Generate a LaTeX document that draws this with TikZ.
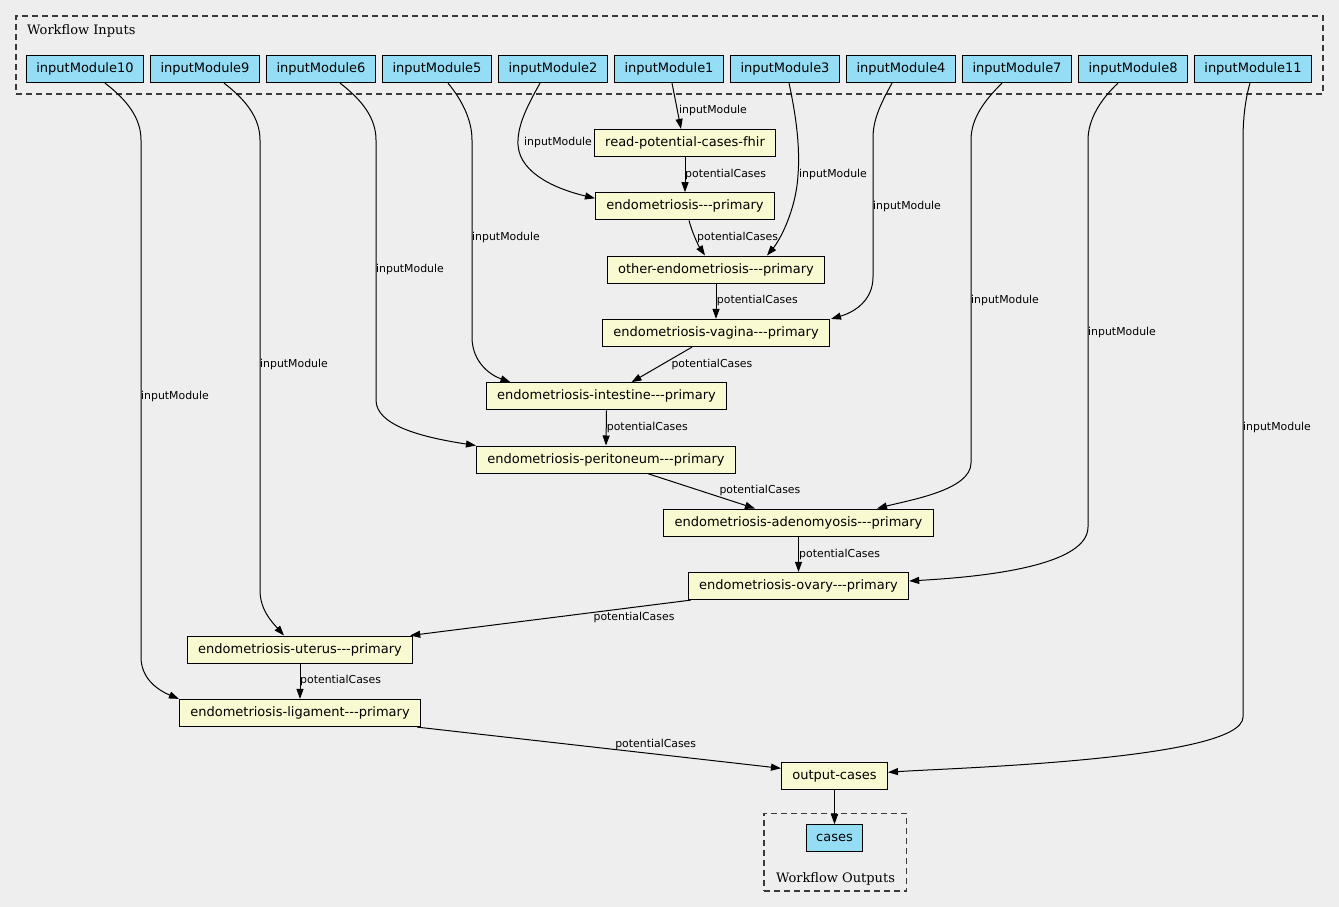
\documentclass[tikz,border=0pt]{standalone}
\usepackage{fontspec}
\newfontfamily\nodefont{DejaVu Sans}
\newfontfamily\clusterfont{DejaVu Serif}
\usetikzlibrary{arrows.meta}
\definecolor{bg}{HTML}{EEEEEE}
\definecolor{infill}{HTML}{94DDF4}
\definecolor{stepfill}{HTML}{FAFAD2}
\definecolor{clusterline}{HTML}{3A3A3A}
\begin{document}
\begin{tikzpicture}[x=1pt,y=-1pt,
 box/.style={draw=black, line width=1.2pt, rectangle, inner ysep=0pt, minimum height=27pt, font=\nodefont\fontsize{13}{15}\selectfont},
 inbox/.style={box, inner xsep=10pt, fill=infill},
 stepbox/.style={box, inner xsep=10.8pt, fill=stepfill},
 lbl/.style={inner sep=0pt, anchor=west, font=\nodefont\fontsize{10.9}{12}\selectfont},
 edge/.style={draw=black, line width=1pt, -{Triangle[length=10pt,width=7pt]}},
 cluster/.style={draw=clusterline, dash pattern=on 6pt off 4pt, line width=1.2pt, rectangle, inner sep=0pt},
 clbl/.style={inner sep=0pt, font=\clusterfont\fontsize{13}{15}\selectfont},
]
\useasboundingbox (0,0) rectangle (1339,907);
\fill[bg] (0,0) rectangle (1339,907);

% clusters
\node[cluster, minimum width=1307pt, minimum height=78pt] (cin) at (669.5,55) {};
\node[clbl, anchor=base west] (cinl) at (27,34.5) {Workflow Inputs};
\node[cluster, minimum width=142.7pt, minimum height=77.7pt] (cout) at (835.3,852.2) {};
\node[clbl, anchor=base] (coutl) at (835.5,882) {Workflow Outputs};

% inputs
\node[inbox] (in10) at (85,69) {inputModule10};
\node[inbox] (in9) at (205,69) {inputModule9};
\node[inbox] (in6) at (321,69) {inputModule6};
\node[inbox] (in5) at (437,69) {inputModule5};
\node[inbox] (in2) at (553,69) {inputModule2};
\node[inbox] (in1) at (669,69) {inputModule1};
\node[inbox] (in3) at (785,69) {inputModule3};
\node[inbox] (in4) at (901,69) {inputModule4};
\node[inbox] (in7) at (1017,69) {inputModule7};
\node[inbox] (in8) at (1133,69) {inputModule8};
\node[inbox] (in11) at (1253,69) {inputModule11};

% steps
\node[stepbox] (read) at (685,143) {read-potential-cases-fhir};
\node[stepbox] (ep) at (685,206.3) {endometriosis---primary};
\node[stepbox] (oth) at (716,269.6) {other-endometriosis---primary};
\node[stepbox] (vag) at (716,333) {endometriosis-vagina---primary};
\node[stepbox] (int) at (606.5,396.3) {endometriosis-intestine---primary};
\node[stepbox] (per) at (606,459.6) {endometriosis-peritoneum---primary};
\node[stepbox] (ade) at (798.5,522.6) {endometriosis-adenomyosis---primary};
\node[stepbox] (ova) at (798.5,586) {endometriosis-ovary---primary};
\node[stepbox] (ute) at (300,649.6) {endometriosis-uterus---primary};
\node[stepbox] (lig) at (300,713) {endometriosis-ligament---primary};
\node[stepbox] (out) at (834.5,776.3) {output-cases};
\node[inbox] (cases) at (834.5,838.3) {cases};

% edges
\draw[edge] ([xshift=3pt]in1.south) -- ([xshift=-4pt]read.north);
\draw[edge] ([xshift=-13pt]in2.south) .. controls (528,105) and (517,125) .. (518,145) .. controls (520,175) and (560,190) .. ([yshift=8pt]ep.west);
\draw[edge] (read.south) -- (ep.north);
\draw[edge] ([xshift=4pt]ep.south) .. controls (692,232) and (698,245) .. ([xshift=-11pt]oth.north);
\draw[edge] ([xshift=4pt]in3.south) .. controls (797,120) and (800,150) .. (798,175) .. controls (796,210) and (780,240) .. ([xshift=51pt]oth.north);
\draw[edge] (oth.south) -- (vag.north);
\draw[edge] ([xshift=-9pt]in4.south) .. controls (880,105) and (873,120) .. (873,138) -- (873,277) .. controls (873,300) and (855,312) .. ([xshift=1pt]vag.north east);
\draw[edge] ([xshift=-24pt]vag.south) -- ([xshift=25pt]int.north);
\draw[edge] ([xshift=11pt]in5.south) .. controls (462,100) and (472,120) .. (472,140) -- (472,337) .. controls (472,362) and (490,375) .. ([xshift=-96pt]int.north);
\draw[edge] (int.south) -- (per.north);
\draw[edge] ([xshift=19pt]in6.south) .. controls (362,100) and (376,118) .. (376,140) -- (376,400) .. controls (376,425) and (420,437) .. (per.north west);
\draw[edge] ([xshift=42pt]per.south) -- ([xshift=-43.5pt]ade.north);
\draw[edge] ([xshift=-15pt]in7.south) .. controls (985,100) and (971,118) .. (971,140) -- (971,463) .. controls (971,490) and (910,500) .. ([xshift=78.5pt]ade.north);
\draw[edge] (ade.south) -- (ova.north);
\draw[edge] ([xshift=-15pt]in8.south) .. controls (1100,100) and (1088,120) .. (1088,140) -- (1088,527) .. controls (1088,570) and (960,578) .. ([yshift=5pt]ova.east);
\draw[edge] ([xshift=3pt]ova.south west) -- ([xshift=-3pt]ute.north east);
\draw[edge] ([xshift=19pt]in9.south) .. controls (246,100) and (260,118) .. (260,140) -- (260,590) .. controls (260,610) and (272,622) .. ([xshift=-16pt]ute.north);
\draw[edge] (ute.south) -- (lig.north);
\draw[edge] ([xshift=20pt]in10.south) .. controls (127,100) and (141,118) .. (141,140) -- (141,657) .. controls (141,680) and (160,691) .. (lig.north west);
\draw[edge] ([xshift=-4pt]lig.south east) -- ([yshift=8pt]out.west);
\draw[edge] ([xshift=-3pt]in11.south) .. controls (1245,100) and (1243,120) .. (1243,140) -- (1243,717) .. controls (1243,760) and (950,768) .. ([yshift=4pt]out.east);
\draw[edge] (out.south) -- (cases.north);

% edge labels
\node[lbl] (l1) at (679,110.7) {inputModule};
\node[lbl] (l2) at (524,142.3) {inputModule};
\node[lbl] (l3) at (685,174.3) {potentialCases};
\node[lbl] (l4) at (697,237.3) {potentialCases};
\node[lbl] (l5) at (799,174) {inputModule};
\node[lbl] (l6) at (716.7,300.7) {potentialCases};
\node[lbl] (l7) at (873,206) {inputModule};
\node[lbl] (l8) at (671.3,364.3) {potentialCases};
\node[lbl] (l9) at (472,237.3) {inputModule};
\node[lbl] (l10) at (606.7,427.7) {potentialCases};
\node[lbl] (l11) at (376,269.3) {inputModule};
\node[lbl] (l12) at (719.3,490.7) {potentialCases};
\node[lbl] (l13) at (971,300.7) {inputModule};
\node[lbl] (l14) at (799,554) {potentialCases};
\node[lbl] (l15) at (1088,332.3) {inputModule};
\node[lbl, anchor=center] (l16) at (634,617.7) {potentialCases};
\node[lbl] (l17) at (260,364.3) {inputModule};
\node[lbl] (l18) at (300,680.7) {potentialCases};
\node[lbl] (l19) at (141,396) {inputModule};
\node[lbl, anchor=center] (l20) at (655.7,744) {potentialCases};
\node[lbl] (l21) at (1243,427.3) {inputModule};
\end{tikzpicture}
\end{document}
